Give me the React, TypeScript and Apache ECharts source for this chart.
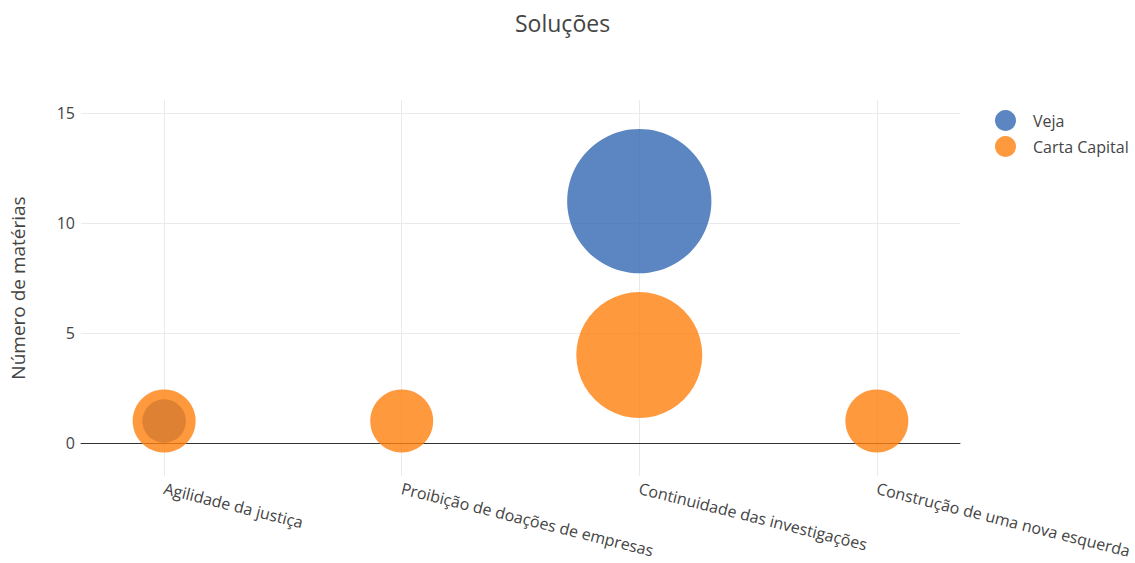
import React, { useEffect, useRef } from "react";
import * as echarts from "echarts";

const categories = [
  "Agilidade da justiça",
  "Proibição de doações de empresas",
  "Continuidade das investigações",
  "Construção de uma nova esquerda",
];
const vejaValues: (number | null)[] = [1, null, 11, null];
const cartaValues: (number | null)[] = [1, 1, 4, 1];
const yTicks = [0, 5, 10, 15];
const xTicks = [0, 1, 2, 3];

const FONT = "Open Sans";

function toData(values: (number | null)[]) {
  const out: number[][] = [];
  values.forEach((v, i) => {
    if (v !== null) out.push([i, v, v]);
  });
  return out;
}

export default function App() {
  const ref = useRef<HTMLDivElement>(null);
  useEffect(() => {
    if (!ref.current) return;
    const chart = echarts.init(ref.current, null, { renderer: "svg" });
    chart.setOption({
      animation: false,
      textStyle: { fontFamily: FONT },
      title: {
        text: "Soluções",
        left: 510,
        top: 6,
        textStyle: { fontFamily: FONT, fontSize: 23, fontWeight: "normal", color: "#444" },
      },
      legend: {
        left: 995,
        top: 110,
        padding: 0,
        orient: "vertical",
        icon: "circle",
        itemWidth: 21,
        itemHeight: 21,
        itemGap: 5,
        textStyle: { fontFamily: FONT, fontSize: 16, color: "#444", padding: [0, 0, 0, 12] },
        data: ["Veja", "Carta Capital"],
      },
      grid: { left: 81, right: 175, top: 100, bottom: 87, outerBoundsMode: "none" },
      xAxis: {
        type: "value",
        min: -0.35,
        max: 3.35,
        axisLine: { onZero: true, lineStyle: { color: "#333", width: 1 } },
        axisTick: { show: false, customValues: xTicks },
        axisLabel: {
          customValues: xTicks,
          rotate: -14,
          margin: 12,
          fontFamily: FONT,
          fontSize: 16,
          color: "#444",
          formatter: (v: number) => categories[Math.round(v)] ?? "",
        },
        splitLine: { show: true, lineStyle: { color: "#eaeaea", width: 1 } },
      },
      yAxis: {
        type: "value",
        min: -1.5,
        max: 15.6,
        name: "Número de matérias",
        nameLocation: "middle",
        nameGap: 54,
        nameTextStyle: { fontFamily: FONT, fontSize: 19, color: "#444" },
        axisLine: { show: false },
        axisTick: { show: false, customValues: yTicks },
        axisLabel: {
          customValues: yTicks,
          margin: 6,
          fontFamily: FONT,
          fontSize: 16,
          color: "#444",
        },
        splitLine: { show: true, lineStyle: { color: "#eaeaea", width: 1 } },
      },
      series: [
        {
          name: "Veja",
          type: "scatter",
          data: toData(vejaValues),
          symbolSize: (d: number[]) => 43.5 * Math.sqrt(d[2]),
          itemStyle: { color: "#3268b1", opacity: 0.8 },
          emphasis: { disabled: true },
        },
        {
          name: "Carta Capital",
          type: "scatter",
          data: toData(cartaValues),
          symbolSize: (d: number[]) => 63 * Math.sqrt(d[2]),
          itemStyle: { color: "#ff7f0e", opacity: 0.8 },
          emphasis: { disabled: true },
        },
      ],
    });
    return () => chart.dispose();
  }, []);
  return (
    <div
      ref={ref}
      style={{ position: "absolute", left: 0, top: 0, width: 1135, height: 563 }}
    />
  );
}
